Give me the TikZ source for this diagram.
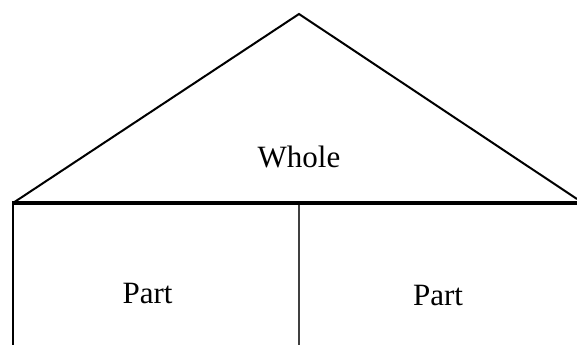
\documentclass[tikz,border=0pt]{standalone}
\usepackage{fontspec}
\setmainfont{Liberation Serif}
\begin{document}
\begin{tikzpicture}[x=1pt,y=1pt,
  lbl/.style={anchor=base,inner sep=0pt,font=\fontsize{31}{36}\selectfont},
  roof/.style={line width=2pt,line join=miter},
  baseln/.style={line width=3.5pt},
  wall/.style={line width=2.7pt},
  divider/.style={line width=1.2pt,black!75}]
\useasboundingbox (0,0) rectangle (577,345);
\coordinate (apex) at (299,331);
\coordinate (bl) at (13,142);
\coordinate (br) at (577,146);
\coordinate (bre) at (577,142);
\coordinate (blb) at (13,0);
\coordinate (mt) at (299,140);
\coordinate (mb) at (299,0);
\draw[roof] (bl) -- (apex) -- (br);
\draw[baseln] (bl) -- (bre);
\draw[wall] ([yshift=1.75pt]bl) -- (blb);
\draw[divider] (mt) -- (mb);
\node[lbl] (whole) at (299,177) {Whole};
\node[lbl] (partl) at (147.5,42) {Part};
\node[lbl] (partr) at (438,40) {Part};
\end{tikzpicture}
\end{document}
